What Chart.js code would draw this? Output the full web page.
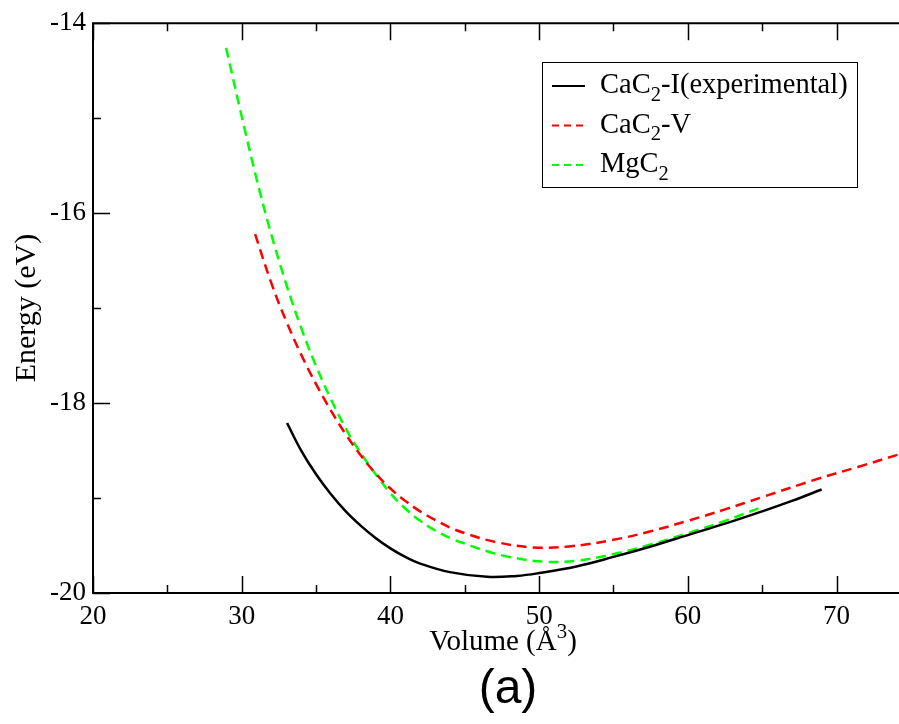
<!DOCTYPE html>
<html>
<head>
<meta charset="utf-8">
<script src="https://cdn.jsdelivr.net/npm/chart.js@4.4.1/dist/chart.umd.min.js"></script>
<style>
  html, body { margin: 0; padding: 0; background: #fff; }
  #wrap { width: 899px; height: 724px; }
</style>
</head>
<body>
<div id="wrap"><canvas id="chart" width="899" height="724"></canvas></div>
<script>
// Volume (A^3) and energy (eV)
const expVolume = [33.05, 34.0, 35.0, 36.0, 37.0, 38.0, 39.0, 40.0, 41.0, 42.0, 44.0, 46.5, 48.5, 50.0, 52.5, 55.0, 57.5, 60.0, 62.5, 65.0, 67.0, 69.0];
const expEnergy = [-18.21, -18.50, -18.75, -18.96, -19.14, -19.29, -19.42, -19.53, -19.62, -19.69, -19.78, -19.83, -19.82, -19.79, -19.72, -19.62, -19.51, -19.39, -19.27, -19.14, -19.03, -18.91];

const cavVolume = [30.9, 32.0, 33.0, 34.0, 35.0, 36.0, 37.0, 38.0, 39.0, 40.0, 41.0, 42.0, 43.0, 44.0, 45.0, 47.0, 49.6, 52.0, 55.0, 57.5, 60.0, 62.5, 65.0, 68.7, 71.5, 74.2];
const cavEnergy = [-16.22, -16.74, -17.14, -17.49, -17.80, -18.08, -18.33, -18.55, -18.74, -18.90, -19.03, -19.14, -19.23, -19.31, -19.37, -19.46, -19.52, -19.51, -19.44, -19.35, -19.24, -19.12, -18.99, -18.80, -18.67, -18.54];

const mgVolume = [28.95, 30.0, 31.0, 32.0, 33.0, 34.0, 35.0, 36.0, 37.0, 37.75, 38.5, 39.25, 40.0, 41.0, 42.0, 43.0, 44.0, 45.0, 46.5, 48.0, 50.3, 52.5, 55.0, 57.5, 60.0, 62.5, 64.9];
const mgEnergy = [-14.26, -14.98, -15.64, -16.23, -16.75, -17.21, -17.61, -17.96, -18.27, -18.465, -18.64, -18.80, -18.95, -19.11, -19.24, -19.34, -19.42, -19.48, -19.56, -19.62, -19.67, -19.66, -19.59, -19.49, -19.37, -19.24, -19.10];

const xTickMarks = [20, 25, 30, 35, 40, 45, 50, 55, 60, 65, 70];
const yTickMarks = [-20, -19, -18, -17, -16, -15, -14];

const serif = '"Liberation Serif", "DejaVu Serif", serif';

function toPoints(xs, ys) {
    return xs.map((x, i) => ({ x: x, y: ys[i] }));
}

// frame + inward ticks like xmgrace
const framePlugin = {
    id: 'frame',
    afterDraw(chart) {
        const ctx = chart.ctx;
        const a = chart.chartArea;
        const xs = chart.scales.x;
        const ys = chart.scales.y;
        ctx.save();
        ctx.strokeStyle = '#000';
        ctx.lineWidth = 1.5;
        xTickMarks.forEach(v => {
            const px = Math.round(xs.getPixelForValue(v)) + 0.5;
            const len = v % 10 === 0 ? 17 : 8;
            ctx.beginPath();
            ctx.moveTo(px, a.bottom); ctx.lineTo(px, a.bottom - len);
            ctx.moveTo(px, a.top); ctx.lineTo(px, a.top + len);
            ctx.stroke();
        });
        yTickMarks.forEach(v => {
            const py = Math.round(ys.getPixelForValue(v)) + 0.5;
            const len = v % 2 === 0 ? 17 : 8;
            ctx.beginPath();
            ctx.moveTo(a.left, py); ctx.lineTo(a.left + len, py);
            ctx.stroke();
        });
        ctx.lineWidth = 2;
        ctx.beginPath();
        ctx.moveTo(a.right + 2, a.top);
        ctx.lineTo(a.left, a.top);
        ctx.lineTo(a.left, a.bottom);
        ctx.lineTo(a.right + 2, a.bottom);
        ctx.stroke();
        ctx.restore();
    }
};

// text with a subscript / superscript piece
function drawRich(ctx, parts, x, y, size) {
    let cx = x;
    parts.forEach(p => {
        const s = p.sub || p.sup ? size * 0.72 : size;
        ctx.font = s + 'px ' + serif;
        const dy = p.sub ? size * 0.28 : (p.sup ? -size * 0.42 : 0);
        ctx.fillText(p.t, cx, y + dy);
        cx += ctx.measureText(p.t).width;
    });
    return cx - x;
}

function richWidth(ctx, parts, size) {
    let w = 0;
    parts.forEach(p => {
        const s = p.sub || p.sup ? size * 0.72 : size;
        ctx.font = s + 'px ' + serif;
        w += ctx.measureText(p.t).width;
    });
    return w;
}

const legendItems = [
    { parts: [{ t: 'CaC' }, { t: '2', sub: true }, { t: '-I(experimental)' }], color: '#000000', dash: [] },
    { parts: [{ t: 'CaC' }, { t: '2', sub: true }, { t: '-V' }], color: '#ff0000', dash: [7, 5] },
    { parts: [{ t: 'MgC' }, { t: '2', sub: true }], color: '#00ff00', dash: [7, 5] }
];

const textPlugin = {
    id: 'texts',
    afterDraw(chart) {
        const ctx = chart.ctx;
        ctx.save();
        ctx.fillStyle = '#000';
        ctx.textBaseline = 'alphabetic';
        ctx.textAlign = 'left';

        // legend box
        ctx.fillStyle = '#fff';
        ctx.fillRect(542, 62, 315, 125);
        ctx.strokeStyle = '#000';
        ctx.lineWidth = 1;
        ctx.strokeRect(542.5, 62.5, 315, 125);
        legendItems.forEach((item, i) => {
            const ly = 86 + i * 39.5;
            ctx.strokeStyle = item.color;
            ctx.lineWidth = 2;
            ctx.setLineDash(item.dash);
            ctx.beginPath();
            ctx.moveTo(552, ly);
            ctx.lineTo(585, ly);
            ctx.stroke();
            ctx.setLineDash([]);
            ctx.fillStyle = '#000';
            drawRich(ctx, item.parts, 600, ly + 7, 28.5);
        });

        // x axis title
        const xt = [{ t: 'Volume (Å' }, { t: '3', sup: true }, { t: ')' }];
        const w = richWidth(ctx, xt, 29);
        drawRich(ctx, xt, 503 - w / 2, 650, 29);

        // panel label
        ctx.font = '48px "Liberation Sans", Arial, sans-serif';
        ctx.textAlign = 'center';
        ctx.fillText('(a)', 508, 703);
        ctx.restore();
    }
};

const lineStyle = {
    pointRadius: 0,
    borderWidth: 2.5,
    fill: false,
    tension: 0.4
};

new Chart(document.getElementById('chart'), {
    type: 'line',
    data: {
        datasets: [
            Object.assign({ label: 'CaC2-I(experimental)', data: toPoints(expVolume, expEnergy), borderColor: '#000000' }, lineStyle),
            Object.assign({ label: 'CaC2-V', data: toPoints(cavVolume, cavEnergy), borderColor: '#ff0000', borderDash: [10, 6] }, lineStyle),
            Object.assign({ label: 'MgC2', data: toPoints(mgVolume, mgEnergy), borderColor: '#00ff00', borderDash: [10, 6] }, lineStyle)
        ]
    },
    options: {
        responsive: false,
        animation: false,
        layout: { padding: { top: 21, left: 0, right: 0, bottom: 0 } },
        plugins: { legend: { display: false }, tooltip: { enabled: false } },
        scales: {
            x: {
                type: 'linear',
                min: 20,
                max: 74.2,
                grid: { display: false, drawTicks: false },
                border: { display: false },
                ticks: {
                    stepSize: 10,
                    includeBounds: false,
                    padding: 8,
                    color: '#000',
                    font: { family: serif, size: 27 }
                },
                afterFit(scale) { scale.height = 131; }
            },
            y: {
                min: -20,
                max: -14,
                grid: { display: false, drawTicks: false },
                border: { display: false },
                ticks: {
                    stepSize: 2,
                    padding: 7,
                    color: '#000',
                    font: { family: serif, size: 27 }
                },
                title: {
                    display: true,
                    text: 'Energy (eV)',
                    color: '#000',
                    font: { family: serif, size: 30 },
                    padding: { top: 9, bottom: 0 }
                },
                afterFit(scale) { scale.width = 93; }
            }
        }
    },
    plugins: [framePlugin, textPlugin]
});
</script>
</body>
</html>
